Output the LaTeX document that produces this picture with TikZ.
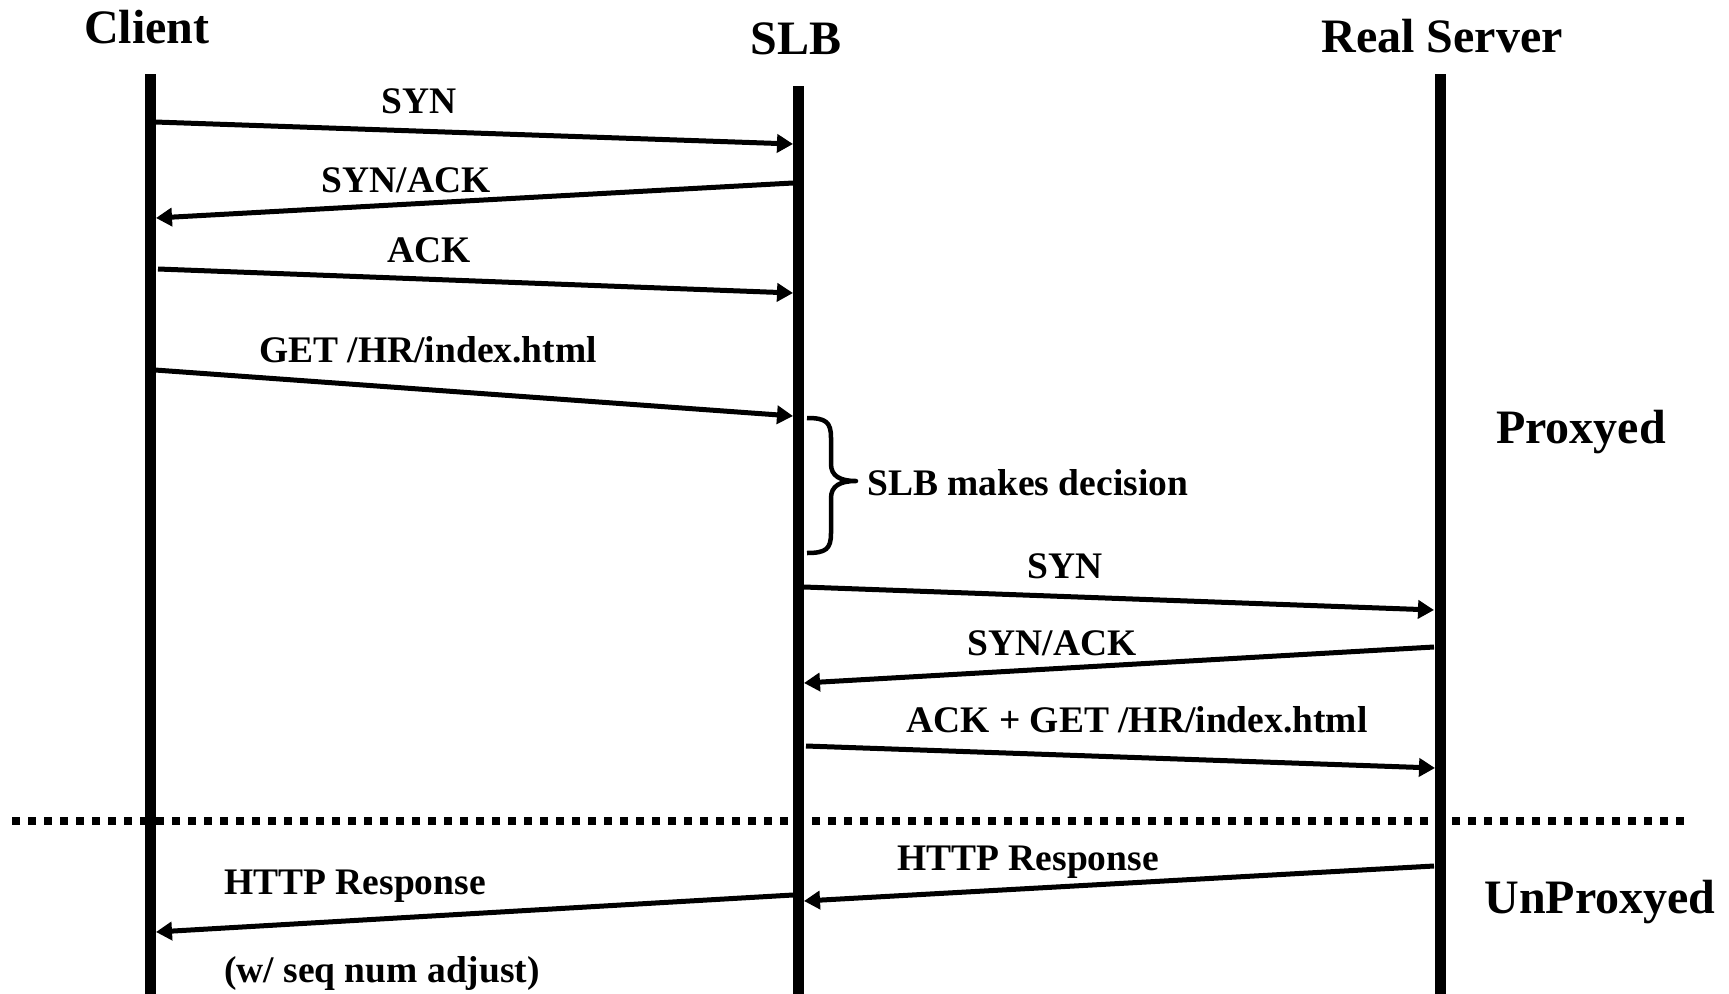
\documentclass[tikz,border=0pt]{standalone}
\usepackage{fontspec}
\setmainfont{Liberation Serif}
\usetikzlibrary{arrows.meta}
\begin{document}
\begin{tikzpicture}[x=1pt,y=-1pt,
  lifeline/.style={line width=11pt},
  msg/.style={line width=5pt,-{Triangle[length=16pt,width=18pt]}},
  title/.style={inner sep=0pt,anchor=base,font=\fontsize{48}{52}\selectfont\bfseries},
  lbl/.style={inner sep=0pt,anchor=base,font=\fontsize{37.5}{41}\selectfont\bfseries},
  divider/.style={line width=8pt,dash pattern=on 8pt off 8pt},
  bracestyle/.style={line width=4.5pt,line join=round},
]
\useasboundingbox (0,0) rectangle (1729,993);

% participants
\node[title] (client) at (147,43) {Client};
\node[title] (slb) at (796,54) {SLB};
\node[title] (server) at (1442,52) {Real Server};

% lifelines
\coordinate (cTop) at (150,74);   \coordinate (cBot) at (150,1000);
\coordinate (sTop) at (798.5,86); \coordinate (sBot) at (798.5,1000);
\coordinate (rTop) at (1440,74);  \coordinate (rBot) at (1440,1000);
\draw[lifeline] (cTop) -- (cBot);
\draw[lifeline] (sTop) -- (sBot);
\draw[lifeline] (rTop) -- (rBot);

% client <-> SLB handshake and request
\coordinate (m1s) at (155,122);  \coordinate (m1e) at (793,144);
\coordinate (m2s) at (793,183);  \coordinate (m2e) at (156,218);
\coordinate (m3s) at (158,269);  \coordinate (m3e) at (793,293);
\coordinate (m4s) at (155,370);  \coordinate (m4e) at (793,416);
\draw[msg] (m1s) -- (m1e);
\draw[msg] (m2s) -- (m2e);
\draw[msg] (m3s) -- (m3e);
\draw[msg] (m4s) -- (m4e);
\node[lbl] (l1) at (419,113) {SYN};
\node[lbl] (l2) at (406,192) {SYN/ACK};
\node[lbl] (l3) at (429,262) {ACK};
\node[lbl] (l4) at (428,362) {GET /HR/index.html};

% load balancing decision: curly brace beside the SLB lifeline
\coordinate (bTop) at (807,418); \coordinate (bTip) at (856,481); \coordinate (bBot) at (807,553);
\draw[bracestyle] (bTop) .. controls (826,418) and (831,422) .. (831,438)
  -- (831,464) .. controls (831,476) and (840,481) .. (bTip)
  .. controls (840,481) and (831,486) .. (831,498)
  -- (831,533) .. controls (831,549) and (826,553) .. (bBot);
\node[lbl,anchor=base west] (decision) at (867,495) {SLB makes decision};

% SLB <-> real server
\coordinate (m6s) at (804,587);  \coordinate (m6e) at (1434,610);
\coordinate (m7s) at (1434,647); \coordinate (m7e) at (804,683);
\coordinate (m8s) at (806,746);  \coordinate (m8e) at (1435,768);
\draw[msg] (m6s) -- (m6e);
\draw[msg] (m7s) -- (m7e);
\draw[msg] (m8s) -- (m8e);
\node[lbl] (l6) at (1065,578) {SYN};
\node[lbl] (l7) at (1052,655) {SYN/ACK};
\node[lbl] (l8) at (1137,732) {ACK + GET /HR/index.html};

% proxied / unproxied boundary
\coordinate (dL) at (12,821); \coordinate (dR) at (1684,821);
\draw[divider] (dL) -- (dR);
\node[title] (prox) at (1581,443) {Proxyed};
\node[title] (unprox) at (1600,913) {UnProxyed};

% response path
\coordinate (m10s) at (1434,866); \coordinate (m10e) at (804,901);
\coordinate (m11s) at (793,895);  \coordinate (m11e) at (156,932);
\draw[msg] (m10s) -- (m10e);
\draw[msg] (m11s) -- (m11e);
\node[lbl] (l10) at (1028,870) {HTTP Response};
\node[lbl] (l11) at (355,894) {HTTP Response};
\node[lbl] (l12) at (382,982) {(w/ seq num adjust)};
\end{tikzpicture}
\end{document}
